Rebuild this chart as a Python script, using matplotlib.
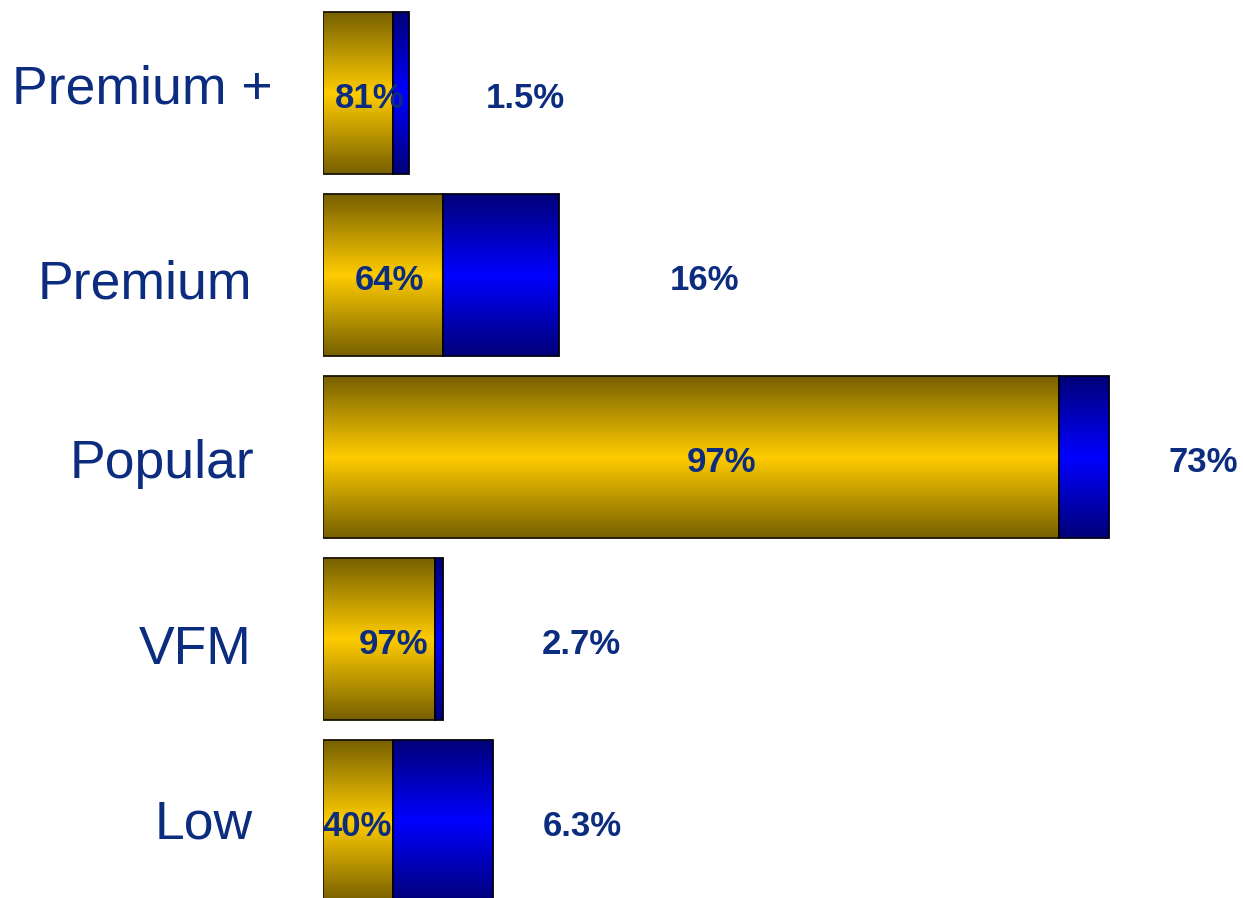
import matplotlib.pyplot as plt
import numpy as np
from matplotlib.colors import LinearSegmentedColormap

categories = ['Premium +', 'Premium', 'Popular', 'VFM', 'Low']
gold_len = [70, 120, 736, 112, 70]
blue_len = [16, 116, 50, 8, 100]
inner_labels = ['81%', '64%', '97%', '97%', '40%']
outer_labels = ['1.5%', '16%', '73%', '2.7%', '6.3%']
inner_x = [47, 66, 399, 70, 34]
outer_x = [202, 382, 880, 258, 259]
cat_x = [-50, -71, -69, -71, -70]
cat_dy = [-0.02, 0.05, 0.04, 0.06, 0.02]

navy = '#0B2C7F'
gold_cmap = LinearSegmentedColormap.from_list('gold', ['#776000', '#FFCC00', '#776000'])
blue_cmap = LinearSegmentedColormap.from_list('blue', ['#000078', '#0000FF', '#000078'])

plt.rcParams['font.family'] = ['Liberation Sans', 'DejaVu Sans']

fig = plt.figure(figsize=(12.43, 8.98), dpi=100)
ax = fig.add_axes([323 / 1243, 0, 1 - 323 / 1243, 1])
ax.set_xlim(0, 920)
ax.set_ylim(4.423, -0.511)
ax.axis('off')

y = np.arange(len(categories))
h = 0.89
gold_bars = ax.barh(y, gold_len, height=h, color='none', edgecolor='#1a1400', linewidth=1.3, zorder=3)
blue_bars = ax.barh(y, blue_len, left=gold_len, height=h, color='none', edgecolor='#000010', linewidth=1.3, zorder=3)

grad = np.linspace(0, 1, 256).reshape(-1, 1)
for bars, cmap in [(gold_bars, gold_cmap), (blue_bars, blue_cmap)]:
    for p in bars:
        x0, y0 = p.get_x(), p.get_y()
        w, hh = p.get_width(), p.get_height()
        im = ax.imshow(grad, cmap=cmap, aspect='auto', extent=[x0, x0 + w, y0 + hh, y0],
                       zorder=2, interpolation='bilinear')
        im.set_clip_path(p)

for i in range(len(categories)):
    ax.text(inner_x[i], y[i] + 0.03, inner_labels[i], ha='center', va='center',
            fontsize=25, fontweight='bold', color=navy, zorder=4)
    ax.text(outer_x[i], y[i] + 0.03, outer_labels[i], ha='center', va='center',
            fontsize=25, fontweight='bold', color=navy, zorder=4)
    ax.text(cat_x[i], y[i] + cat_dy[i], categories[i], ha='right', va='center',
            fontsize=38.5, color=navy, clip_on=False)

fig.savefig('out.png', dpi=100)
